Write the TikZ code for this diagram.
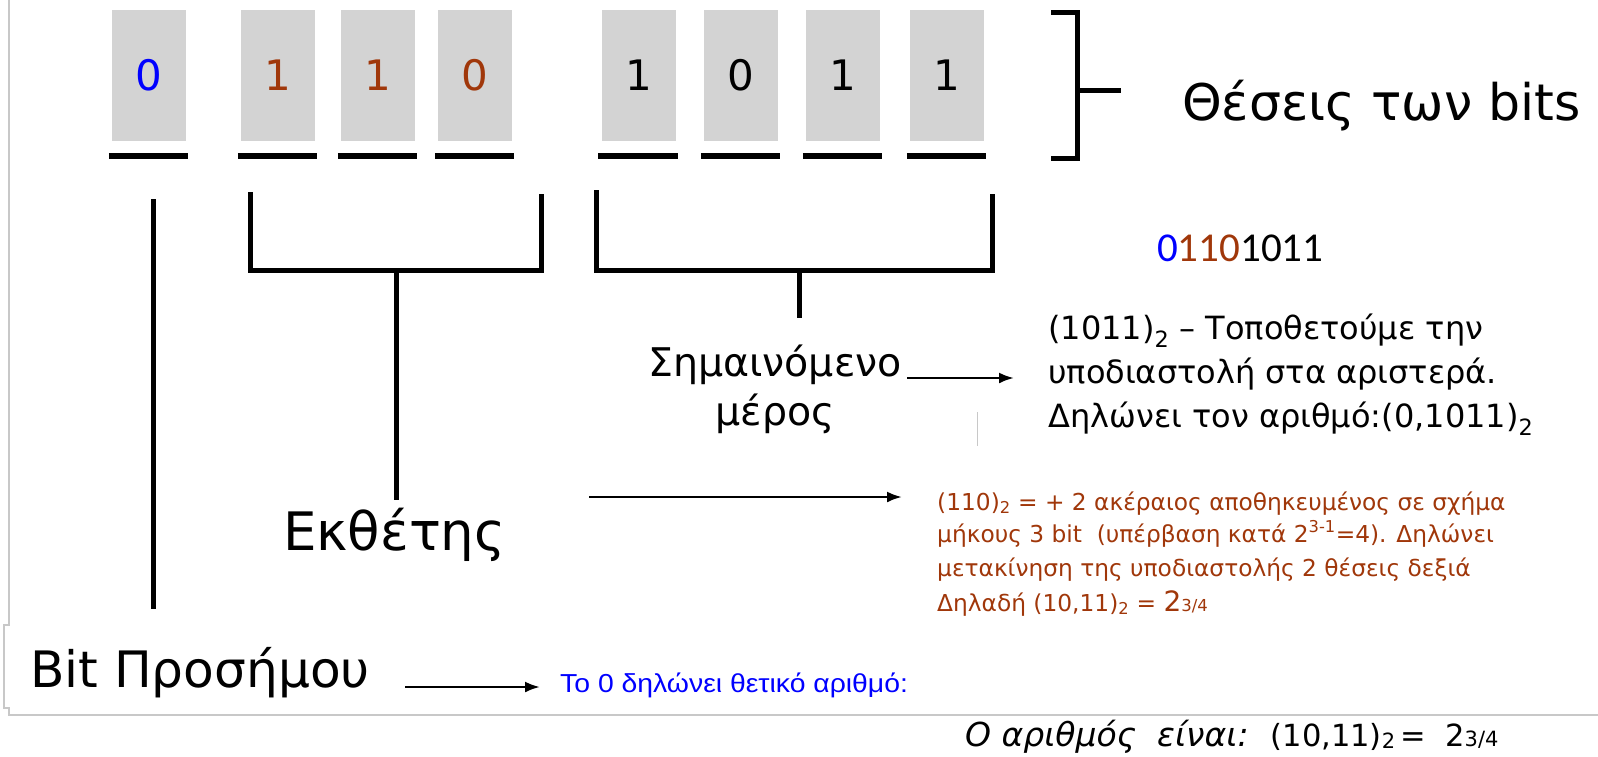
\documentclass[tikz,border=0pt]{standalone}
\usepackage{fontspec}
\setmainfont{DejaVu Sans}
\newfontfamily\carl{Carlito}
\newfontfamily\bluefont[FakeStretch=1.09]{Liberation Sans}
\usetikzlibrary{arrows.meta,calc}
\definecolor{bitgray}{RGB}{211,211,211}
\definecolor{rust}{RGB}{160,55,10}
\definecolor{pureblue}{RGB}{0,0,255}
\definecolor{framegray}{RGB}{200,200,200}
\tikzset{
  bitbox/.style={fill=bitgray, draw=none, minimum width=74pt, minimum height=131pt, inner sep=0pt, font=\fontsize{42}{48}\selectfont},
  bar/.style={line width=6pt},
  conn/.style={line width=5pt},
  arr/.style={line width=2.5pt, -{Latex[length=15pt,width=11pt]}},
  txt/.style={inner sep=0pt, anchor=base west},
  frame/.style={draw=framegray, line width=1.5pt}
}
\begin{document}
\begin{tikzpicture}[x=1pt,y=-1pt]
\useasboundingbox (0,0) rectangle (1598,756);
% screenshot frame lines
\draw[frame] (9,0) -- (9,625) -- (4,625) -- (4,708) -- (9,708) -- (9,715) -- (1598,715);
\draw[draw=framegray, line width=1pt] (977,412) -- (977,446);
% bit boxes
\node[bitbox, text=pureblue] (b1) at (149,75.5) {0};
\node[bitbox, text=rust] (b2) at (278,75.5) {1};
\node[bitbox, text=rust] (b3) at (378,75.5) {1};
\node[bitbox, text=rust] (b4) at (475,75.5) {0};
\node[bitbox] (b5) at (638.5,75.5) {1};
\node[bitbox] (b6) at (741,75.5) {0};
\node[bitbox] (b7) at (843,75.5) {1};
\node[bitbox] (b8) at (947,75.5) {1};
\foreach \b in {b1,b2,b3,b4,b5,b6,b7,b8}
  \draw[bar] ($(\b.south west)+(-3,15)$) -- ($(\b.south east)+(2,15)$);
% right bracket
\coordinate (rbt) at (1077,12);
\coordinate (rbb) at (1077,158);
\coordinate (rbm) at (1077,90);
\draw[conn] ($(rbt)+(-26,0)$) -- (rbt) -- (rbb) -- ($(rbb)+(-26,0)$);
\draw[conn] (rbm) -- ($(rbm)+(44,0)$);
\node[txt, font=\fontsize{50.5}{60}\selectfont] (pos) at (1182,120) {Θέσεις των bits};
% sign line
\coordinate (s1) at (153,199);
\coordinate (s2) at (153,609);
\draw[conn] (s1) -- (s2);
% exponent bracket
\coordinate (eL) at (250,192);
\coordinate (eR) at (541,194);
\coordinate (eS) at (396,270);
\coordinate (eE) at (396,500);
\draw[conn] (eL) -- (eL |- eS) -- (eR |- eS) -- (eR);
\draw[conn] (eS) -- (eE);
% mantissa bracket
\coordinate (mL) at (596,190);
\coordinate (mR) at (992,194);
\coordinate (mS) at (799,270);
\coordinate (mE) at (799,318);
\draw[conn] (mL) -- (mL |- mS) -- (mR |- mS) -- (mR);
\draw[conn] (mS) -- (mE);
% binary word
\node[txt, font=\carl\fontsize{41}{48}\selectfont] (word) at (1157,261) {\textcolor{pureblue}{0}\textcolor{rust}{110}1011};
% mantissa labels
\node[txt, font=\fontsize{39.5}{48}\selectfont] (sig1) at (648,376) {Σημαινόμενο};
\node[inner sep=0pt, anchor=base, font=\fontsize{39.5}{48}\selectfont] (sig2) at (775,425) {μέρος};
\coordinate (a1s) at (907,378);
\coordinate (a1e) at (1014,378);
\draw[arr] (a1s) -- (a1e);
\node[txt, font=\fontsize{32}{38}\selectfont] (m1) at (1048,339) {(1011)\textsubscript{2} – Τοποθετούμε την};
\node[txt, font=\fontsize{32}{38}\selectfont] (m2) at (1048,383) {υποδιαστολή στα αριστερά.};
\node[txt, font=\fontsize{32}{38}\selectfont] (m3) at (1048,427) {Δηλώνει τον αριθμό:(0,1011)\textsubscript{2}};
% exponent labels
\node[txt, font=\fontsize{53}{60}\selectfont] (exp) at (283,550) {Εκθέτης};
\coordinate (a2s) at (589,497);
\coordinate (a2e) at (902,497);
\draw[arr] (a2s) -- (a2e);
\node[txt, text=rust, font=\fontsize{23.3}{28}\selectfont] (e1) at (937,510) {(110)\textsubscript{2} = + 2 ακέραιος αποθηκευμένος σε σχήμα};
\node[txt, text=rust, font=\fontsize{23.3}{28}\selectfont] (e2) at (937,542) {μήκους 3 bit\ \ (υπέρβαση κατά 2\textsuperscript{3-1}=4). Δηλώνει};
\node[txt, text=rust, font=\fontsize{23.3}{28}\selectfont] (e3) at (937,576) {μετακίνηση της υποδιαστολής 2 θέσεις δεξιά};
\node[txt, text=rust, font=\fontsize{23.3}{28}\selectfont] (e4) at (937,611) {Δηλαδή (10,11)\textsubscript{2} = {\fontsize{28}{28}\selectfont 2}{\fontsize{16.5}{17}\selectfont 3/4}};
% sign labels
\node[txt, font=\fontsize{50.2}{60}\selectfont] (sgnl) at (30,687) {Bit Προσήμου};
\coordinate (a3s) at (405,687);
\coordinate (a3e) at (540,687);
\draw[arr] (a3s) -- (a3e);
\node[txt, text=pureblue, font=\bluefont\fontsize{26}{30}\selectfont] (sgnt) at (560,692) {Το 0 δηλώνει θετικό αριθμό:};
% result
\node[txt, font=\fontsize{30.5}{36}\selectfont] (res) at (965,746) {{\itshape\fontsize{33}{36}\selectfont Ο αριθμός\ \ είναι:}\hspace{22pt}(10,11)\raisebox{-2pt}{\fontsize{21}{21}\selectfont 2}\,=\ \ 2{\fontsize{21}{21}\selectfont 3/4}};
\end{tikzpicture}
\end{document}
